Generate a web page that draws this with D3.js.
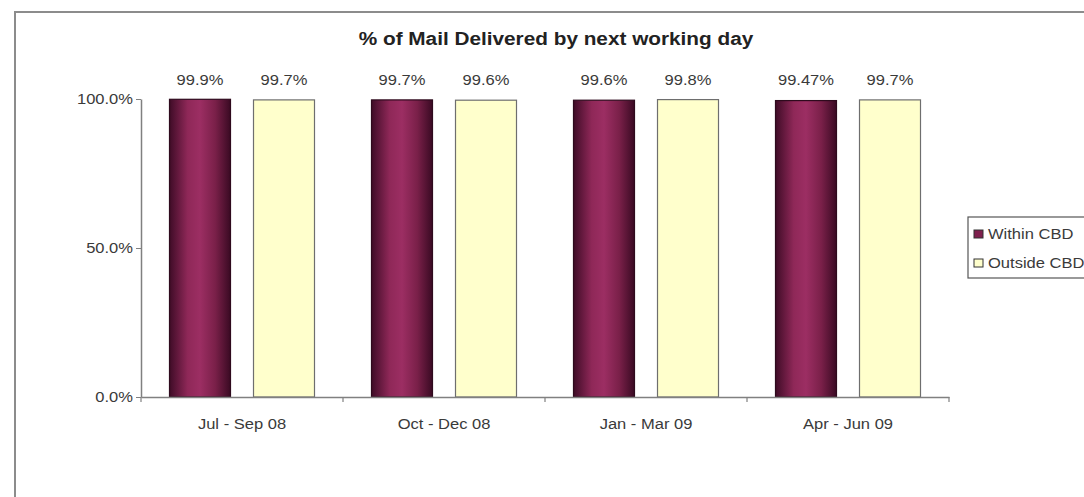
<!DOCTYPE html>
<html>
<head>
<meta charset="utf-8">
<script src="https://d3js.org/d3.v7.min.js"></script>
<style>
  html, body { margin: 0; padding: 0; background: #fff; }
  svg { display: block; font-family: "Liberation Sans", Arial, sans-serif; }
</style>
</head>
<body>
<svg id="chart" width="1084" height="497"></svg>
<script>
const title = "% of Mail Delivered by next working day";
const categories = ["Jul - Sep 08", "Oct - Dec 08", "Jan - Mar 09", "Apr - Jun 09"];
const seriesNames = ["Within CBD", "Outside CBD"];
const withinCBD = [0.999, 0.997, 0.996, 0.9947];
const outsideCBD = [0.997, 0.996, 0.998, 0.997];
const withinLabels = ["99.9%", "99.7%", "99.6%", "99.47%"];
const outsideLabels = ["99.7%", "99.6%", "99.8%", "99.7%"];
const yTicks = [0, 0.5, 1];

const svg = d3.select("#chart");
const W = 1084, H = 497;
const FONT = "Liberation Sans, Arial, sans-serif";

// outer chart frame (extends past the right and bottom edge)
svg.append("rect").attr("x", 15).attr("y", 12).attr("width", W + 20).attr("height", H + 20)
  .attr("fill", "#fff").attr("stroke", "#8c8c8c").attr("stroke-width", 2);

const defs = svg.append("defs");
const grad = defs.append("linearGradient").attr("id", "maroon").attr("x1", "0").attr("x2", "1").attr("y1", "0").attr("y2", "0");
[["0%", "#3f0c27"], ["30%", "#8f2858"], ["50%", "#9c2e63"], ["75%", "#7a2049"], ["100%", "#3a0a23"]]
  .forEach(([o, c]) => grad.append("stop").attr("offset", o).attr("stop-color", c));

const plot = { left: 141, right: 949, top: 99, bottom: 397 };

const x0 = d3.scaleBand().domain(categories).range([plot.left, plot.right]).padding(0);
const inner = 28.5;
const x1 = d3.scaleBand().domain(seriesNames)
  .range([inner, x0.bandwidth() - inner]).paddingInner(0.274).paddingOuter(0);
const y = d3.scaleLinear().domain([0, 1]).range([plot.bottom, plot.top]);

const rows = categories.map((c, i) => ({
  cat: c,
  vals: [
    { s: seriesNames[0], v: withinCBD[i], label: withinLabels[i] },
    { s: seriesNames[1], v: outsideCBD[i], label: outsideLabels[i] }
  ]
}));

const fills = { "Within CBD": "url(#maroon)", "Outside CBD": "#ffffcc" };
const strokes = { "Within CBD": "#2e0a1d", "Outside CBD": "#6e6e6e" };

const g = svg.append("g");
const groups = g.selectAll("g.grp").data(rows).join("g")
  .attr("class", "grp").attr("transform", d => `translate(${x0(d.cat)},0)`);

groups.selectAll("rect").data(d => d.vals).join("rect")
  .attr("x", d => x1(d.s))
  .attr("y", d => y(d.v))
  .attr("width", x1.bandwidth())
  .attr("height", d => y(0) - y(d.v))
  .attr("fill", d => fills[d.s])
  .attr("stroke", d => strokes[d.s])
  .attr("stroke-width", 1.2);

groups.selectAll("text").data(d => d.vals).join("text")
  .attr("class", "stretch")
  .attr("x", d => x1(d.s) + x1.bandwidth() / 2)
  .attr("y", 85)
  .attr("text-anchor", "middle")
  .attr("font-size", 14)
  .attr("fill", "#3a3a3a")
  .text(d => d.label);

// y axis
const yAxis = d3.axisLeft(y).tickValues(yTicks).tickFormat(d3.format(".1%")).tickSize(5).tickSizeOuter(0);
const ya = svg.append("g").attr("transform", `translate(${plot.left},0)`).call(yAxis);
ya.select(".domain").attr("stroke", "#808080").attr("stroke-width", 1.5);
ya.selectAll(".tick line").attr("stroke", "#808080");
ya.selectAll(".tick text").attr("class", "stretch").attr("font-size", 14).attr("fill", "#3a3a3a")
  .attr("font-family", FONT).attr("x", -8);

// x axis
const xa = svg.append("g").attr("transform", `translate(0,${plot.bottom})`)
  .call(d3.axisBottom(x0).tickSize(0).tickSizeOuter(0));
xa.select(".domain").attr("stroke", "#808080").attr("stroke-width", 1.5);
xa.selectAll(".tick text").attr("class", "stretch").attr("font-size", 14).attr("fill", "#3a3a3a")
  .attr("font-family", FONT).attr("y", 0).attr("dy", 0)
  .attr("transform", "translate(0,32)");
// category boundary ticks
const bounds = categories.map(c => x0(c)).concat([plot.right]);
svg.append("g").selectAll("line").data(bounds).join("line")
  .attr("x1", d => d).attr("x2", d => d)
  .attr("y1", plot.bottom).attr("y2", plot.bottom + 5)
  .attr("stroke", "#808080").attr("stroke-width", 1.2);

// title
svg.append("text").attr("class", "stretch").attr("x", 556).attr("y", 45).attr("text-anchor", "middle")
  .attr("font-size", 17.6).attr("font-weight", "bold").attr("fill", "#222")
  .text(title);

// legend
const lg = svg.append("g");
lg.append("rect").attr("x", 968).attr("y", 217).attr("width", 130).attr("height", 61)
  .attr("fill", "#fff").attr("stroke", "#555").attr("stroke-width", 1.2);
const legendFills = { "Within CBD": "#7e1f4d", "Outside CBD": "#ffffcc" };
seriesNames.forEach((s, i) => {
  const yy = 234 + i * 29;
  lg.append("rect").attr("x", 974).attr("y", yy - 4).attr("width", 9).attr("height", 8)
    .attr("fill", legendFills[s]).attr("stroke", "#333").attr("stroke-width", 1);
  lg.append("text").attr("class", "stretch").attr("x", 988).attr("y", yy + 5)
    .attr("font-size", 14).attr("fill", "#3a3a3a").text(s);
});

// the reference glyphs are horizontally wider than the installed fonts: stretch uniformly
svg.selectAll("text.stretch").each(function () {
  const len = this.getComputedTextLength();
  d3.select(this).attr("textLength", len * 1.18).attr("lengthAdjust", "spacingAndGlyphs");
});
</script>
</body>
</html>
